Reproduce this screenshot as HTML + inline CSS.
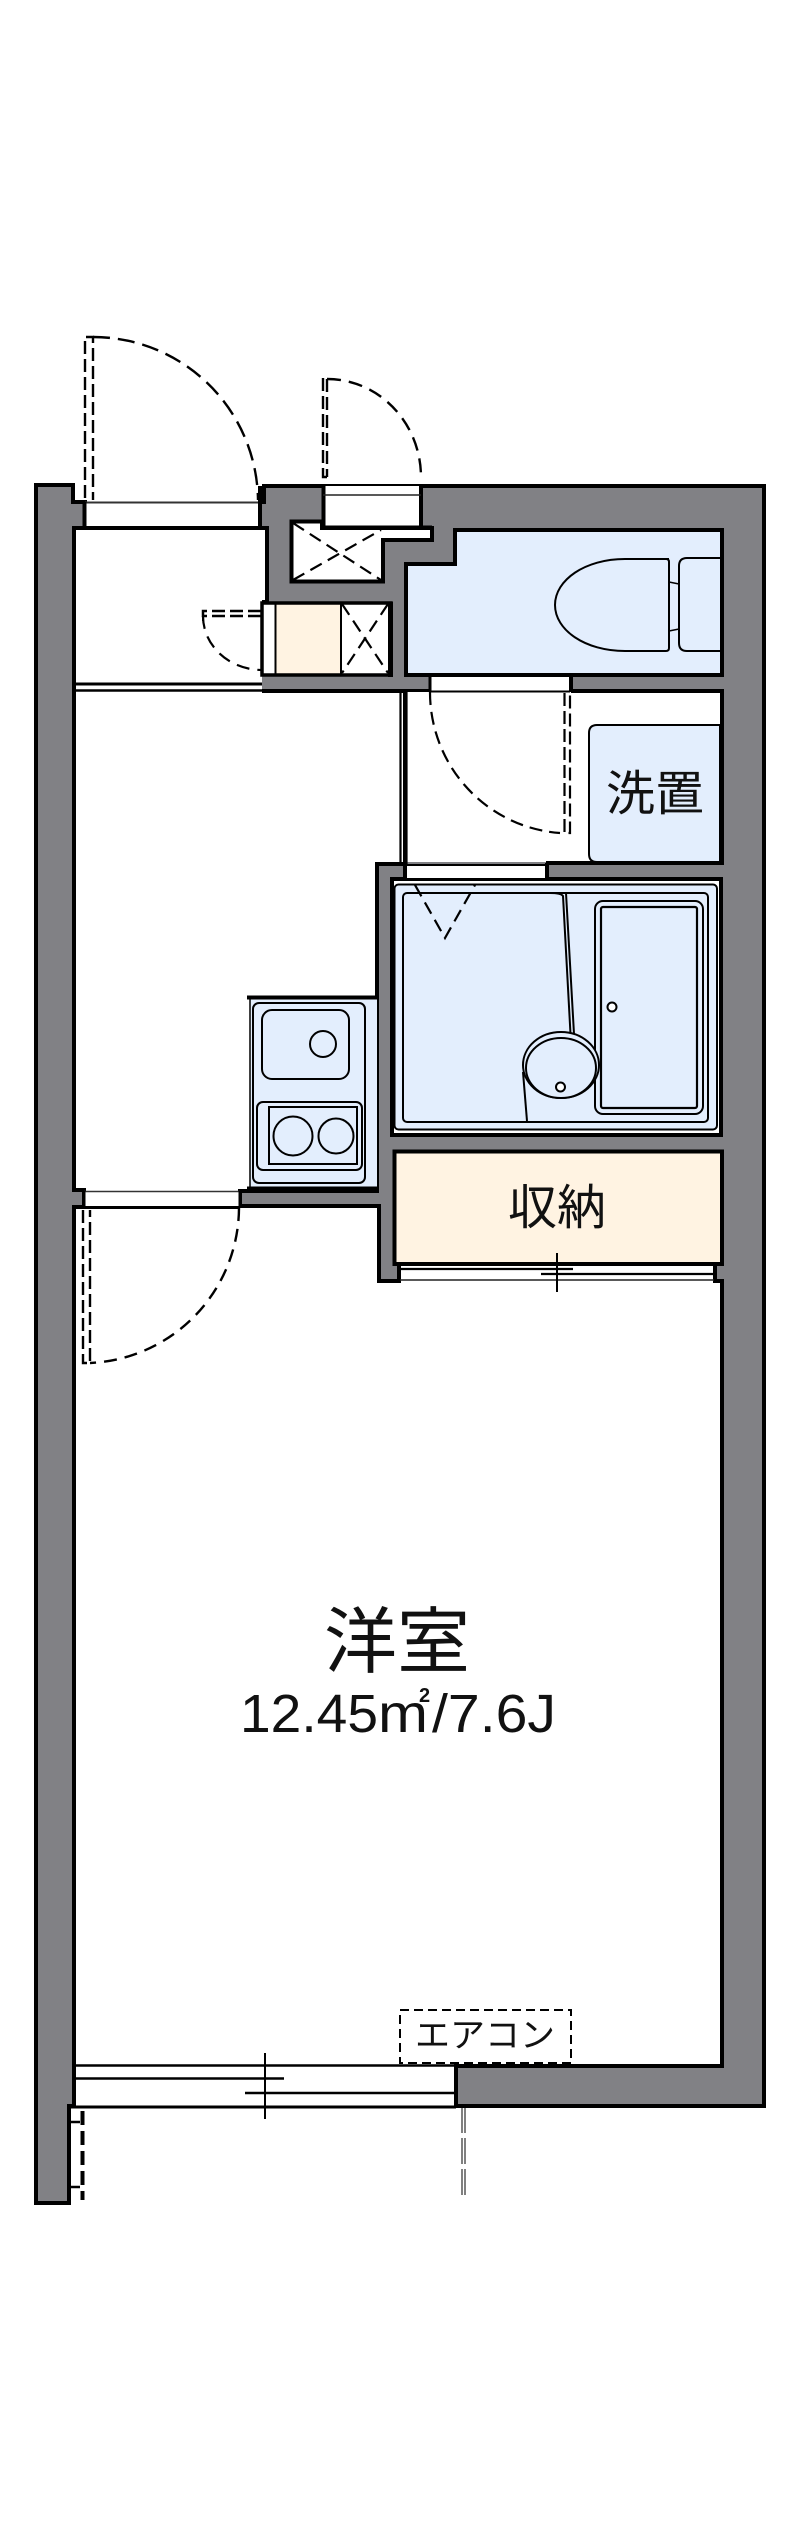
<!DOCTYPE html>
<html><head><meta charset="utf-8"><style>
html,body{margin:0;padding:0;background:#fff}
svg{display:block}
text{font-family:"Liberation Sans","Noto Sans CJK JP",sans-serif;fill:#111}
</style></head><body>
<svg xmlns="http://www.w3.org/2000/svg" width="800" height="2539" viewBox="0 0 800 2539">
<!-- walls -->
<g fill="#818185" stroke="#000" stroke-width="4" stroke-linejoin="miter">
<path d="M36 485H73V502H85V528H74V1190H84V1207H74V2106H69V2203H36Z"/>
<path d="M264 486H764V2106H456V2066H722V1281H715V1265H399V1281H379V1206H240V1191H377V864H405V691H264V602H267V528H260V502H264Z"/>
</g>
<!-- top-left door gap -->
<rect x="86" y="503" width="172" height="24" fill="#fff"/>
<path d="M85 502.500H260" stroke="#333" stroke-width="2"/>
<path d="M84 528H268" stroke="#000" stroke-width="4" fill="none"/>
<path d="M84.500 502V528M260 486V528" stroke="#000" stroke-width="4" fill="none"/>
<!-- hall lines -->
<path d="M75 684H262" stroke="#000" stroke-width="3"/>
<path d="M75 690.500H262" stroke="#000" stroke-width="2.500"/>
<rect x="262" y="676" width="168" height="14" fill="#818185"/>
<path d="M262 691H430" stroke="#000" stroke-width="4"/>
<!-- window above closet -->
<rect x="323" y="486" width="98" height="40" fill="#fff"/>
<path d="M323.500 484V528M421 484V528" stroke="#000" stroke-width="4"/>
<path d="M323 485H423" stroke="#000" stroke-width="2"/>
<path d="M323 495H421" stroke="#222" stroke-width="1.500"/>
<!-- closet with X -->
<path d="M291.500 521.500H322V528H432V540H383V581.500H291.500Z" fill="#fff" stroke="#000" stroke-width="4"/>
<path d="M322 527.500H432" stroke="#000" stroke-width="4"/>
<path d="M293 523L381 580M293 580L381 530" stroke="#000" stroke-width="2.200" stroke-dasharray="13 7" fill="none"/>
<!-- small cabinet -->
<rect x="262" y="603" width="14" height="72" fill="#fff"/>
<rect x="276" y="603" width="65" height="72" fill="#fff3e2"/>
<rect x="341" y="603" width="49" height="72" fill="#fff"/>
<path d="M262 603H391V675H262Z" fill="none" stroke="#000" stroke-width="3.500"/>
<path d="M390.500 602V677" stroke="#000" stroke-width="5"/>
<path d="M275.500 603V675M341 603V675" stroke="#000" stroke-width="2"/>
<path d="M342 604L388 673M388 604L342 673" stroke="#000" stroke-width="2.200" stroke-dasharray="13 7" fill="none"/>
<!-- small door swing -->
<path d="M261 611H203V616H261" fill="none" stroke="#000" stroke-width="2.500" stroke-dasharray="13 5"/>
<path d="M203 611V621" stroke="#000" stroke-width="2"/>
<path d="M203 616A59 54 0 0 0 262 670" fill="none" stroke="#000" stroke-width="2.200" stroke-dasharray="13 8"/>
<!-- toilet room -->
<path d="M406 675V564H455V530H722V675Z" fill="#e3eefd" stroke="#000" stroke-width="4"/>
<path d="M669 559H625C585 559 555 580 555 605C555 630 585 651 625 651H666Q669 651 669 648V562Q669 559 666 559Z" fill="#e3eefd" stroke="#000" stroke-width="2"/>
<path d="M720 558H687Q679 558 679 566V643Q679 651 687 651H720" fill="#e3eefd" stroke="#000" stroke-width="2"/>
<path d="M669 582L679 584M669 631L679 629" stroke="#000" stroke-width="1.500"/>
<!-- laundry room -->
<rect x="406" y="692" width="316" height="170" fill="#fff"/>
<path d="M571 691H722V863H546" fill="none" stroke="#000" stroke-width="4"/>
<rect x="431" y="677" width="139" height="14" fill="#fff"/>
<path d="M430 676H570M430 691.500H570" stroke="#000" stroke-width="2"/>
<path d="M430 676V691" stroke="#000" stroke-width="3"/>
<path d="M571 676V692" stroke="#000" stroke-width="4"/>
<path d="M400.500 692V864M406.500 692V864" stroke="#000" stroke-width="2.200"/>
<path d="M589 733Q589 725 597 725H720V862H597Q589 862 589 854Z" fill="#e3eefd" stroke="#000" stroke-width="2"/>
<text x="655" y="810" font-size="48" text-anchor="middle" textLength="98" lengthAdjust="spacingAndGlyphs">洗置</text>
<!-- laundry door swing -->
<path d="M564.500 693V833H570V693" fill="none" stroke="#000" stroke-width="2.200" stroke-dasharray="13 5"/>
<path d="M430 692A140 141 0 0 0 560 833" fill="none" stroke="#000" stroke-width="2.200" stroke-dasharray="13 7"/>
<!-- bath room -->
<rect x="392" y="879" width="329" height="256" fill="#fff" stroke="#000" stroke-width="4"/>
<rect x="407" y="864" width="139" height="14" fill="#fff"/>
<path d="M405 865H546" stroke="#000" stroke-width="2"/>
<path d="M405 864V878M547 863V878" stroke="#000" stroke-width="4"/>
<rect x="394.500" y="884.500" width="322.500" height="245" rx="4" fill="#e3eefd" stroke="#000" stroke-width="2"/>
<rect x="403" y="893" width="305" height="229" rx="4" fill="#e3eefd" stroke="#000" stroke-width="2"/>
<rect x="595" y="901" width="108" height="213" rx="8" fill="#e3eefd" stroke="#000" stroke-width="2"/>
<rect x="601" y="907" width="96" height="201" rx="2" fill="#e3eefd" stroke="#000" stroke-width="2.200"/>
<circle cx="612" cy="1007" r="4.500" fill="#fff" stroke="#000" stroke-width="2"/>
<path d="M550 893Q561 893 563 896L570.500 1034M566 893L574 1034" fill="none" stroke="#000" stroke-width="2"/>
<path d="M523 1072L527 1121" stroke="#000" stroke-width="2"/>
<ellipse cx="561" cy="1065" rx="38" ry="33" fill="#e3eefd" stroke="#000" stroke-width="2"/>
<ellipse cx="561" cy="1068" rx="35" ry="30" fill="#e3eefd" stroke="#000" stroke-width="2"/>
<circle cx="560.500" cy="1087" r="4.500" fill="#fff" stroke="#000" stroke-width="2"/>
<path d="M415 885L445 938L475 885" fill="none" stroke="#000" stroke-width="2.200" stroke-dasharray="13 7"/>
<!-- storage -->
<path d="M394.500 1151.500H722V1264H394.500Z" fill="#fff3e2" stroke="#000" stroke-width="4"/>
<text x="557" y="1224" font-size="48" text-anchor="middle" textLength="98" lengthAdjust="spacingAndGlyphs">収納</text>
<rect x="400" y="1266" width="314" height="14" fill="#fff"/>
<path d="M399.500 1264V1281M714.500 1264V1281" stroke="#000" stroke-width="3"/>
<path d="M394 1264H722" stroke="#000" stroke-width="3"/>
<path d="M400 1269H573" stroke="#000" stroke-width="2.200"/>
<path d="M541 1274H714" stroke="#000" stroke-width="2.200"/>
<path d="M400 1280H714" stroke="#222" stroke-width="1.500"/>
<path d="M557 1253V1292" stroke="#000" stroke-width="2"/>
<!-- kitchen -->
<rect x="250" y="999" width="127" height="190" fill="#e3eefd"/>
<path d="M247 997.500H377" stroke="#000" stroke-width="4"/>
<path d="M250 999V1189" stroke="#000" stroke-width="1.500"/>
<rect x="253" y="1003" width="112" height="180" rx="6" fill="#e3eefd" stroke="#000" stroke-width="2"/>
<rect x="262" y="1010" width="87" height="69" rx="10" fill="#e3eefd" stroke="#000" stroke-width="2"/>
<circle cx="323" cy="1044" r="13" fill="#e3eefd" stroke="#000" stroke-width="2"/>
<rect x="257" y="1102" width="105" height="68" rx="6" fill="#e3eefd" stroke="#000" stroke-width="2"/>
<rect x="269" y="1107" width="88" height="57" fill="#e3eefd" stroke="#000" stroke-width="2"/>
<circle cx="293" cy="1136" r="19.500" fill="#e3eefd" stroke="#000" stroke-width="2"/>
<circle cx="336" cy="1136" r="17.500" fill="#e3eefd" stroke="#000" stroke-width="2"/>
<path d="M247 1188H377" stroke="#000" stroke-width="3"/>
<!-- hall door -->
<rect x="85" y="1192" width="154" height="15" fill="#fff"/>
<path d="M84 1191.500H240" stroke="#333" stroke-width="1.500"/>
<path d="M74 1207.500H240" stroke="#000" stroke-width="3"/>
<path d="M84 1191V1208M240 1191V1208" stroke="#000" stroke-width="3"/>
<path d="M83 1210V1363H90V1210" fill="none" stroke="#000" stroke-width="2.400" stroke-dasharray="13 5"/>
<path d="M239 1208A156 156 0 0 1 90 1363" fill="none" stroke="#000" stroke-width="2.400" stroke-dasharray="13 8"/>
<!-- top-left door leaf -->
<path d="M85 498V337H93V500" fill="none" stroke="#000" stroke-width="2.400" stroke-dasharray="13 5"/>
<path d="M93 337A165 165 0 0 1 258 500" fill="none" stroke="#000" stroke-width="2.400" stroke-dasharray="17 8"/>
<!-- second door -->
<path d="M327 477H323V378H327V477" fill="none" stroke="#000" stroke-width="2.400" stroke-dasharray="13 5"/>
<path d="M327 379A94 98 0 0 1 421 477" fill="none" stroke="#000" stroke-width="2.400" stroke-dasharray="14 8"/>
<!-- bottom window -->
<rect x="76" y="2067" width="378" height="38" fill="#fff"/>
<path d="M74 2065.500H456" stroke="#000" stroke-width="2.500"/>
<path d="M76 2078.500H284" stroke="#000" stroke-width="2.500"/>
<path d="M245 2093H454" stroke="#000" stroke-width="2.500"/>
<path d="M69 2107H456" stroke="#000" stroke-width="3"/>
<path d="M265 2053V2119" stroke="#000" stroke-width="2"/>
<!-- AC -->
<rect x="400" y="2010" width="171" height="53" fill="#fff" stroke="#000" stroke-width="2" stroke-dasharray="9 5"/>
<text x="485" y="2047" font-size="34" text-anchor="middle" textLength="140" lengthAdjust="spacingAndGlyphs">エアコン</text>
<!-- balcony -->
<path d="M82.500 2111V2200" stroke="#000" stroke-width="4" stroke-dasharray="14 6"/>
<path d="M70 2122H80M70 2187H80" stroke="#000" stroke-width="2.500"/>
<path d="M462 2107V2200M465 2107V2200" stroke="#000" stroke-width="1" stroke-dasharray="26 5" fill="none"/>
<!-- labels -->
<text x="397" y="1667" font-size="72" text-anchor="middle" textLength="146" lengthAdjust="spacingAndGlyphs">洋室</text>
<text x="240" y="1732" font-size="54" textLength="138" lengthAdjust="spacingAndGlyphs">12.45</text>
<text x="378" y="1732" font-size="54" textLength="50" lengthAdjust="spacingAndGlyphs">m</text>
<text x="419" y="1702" font-size="20" font-weight="bold">2</text>
<text x="432" y="1732" font-size="54" textLength="124" lengthAdjust="spacingAndGlyphs">/7.6J</text>
</svg>
</body></html>
